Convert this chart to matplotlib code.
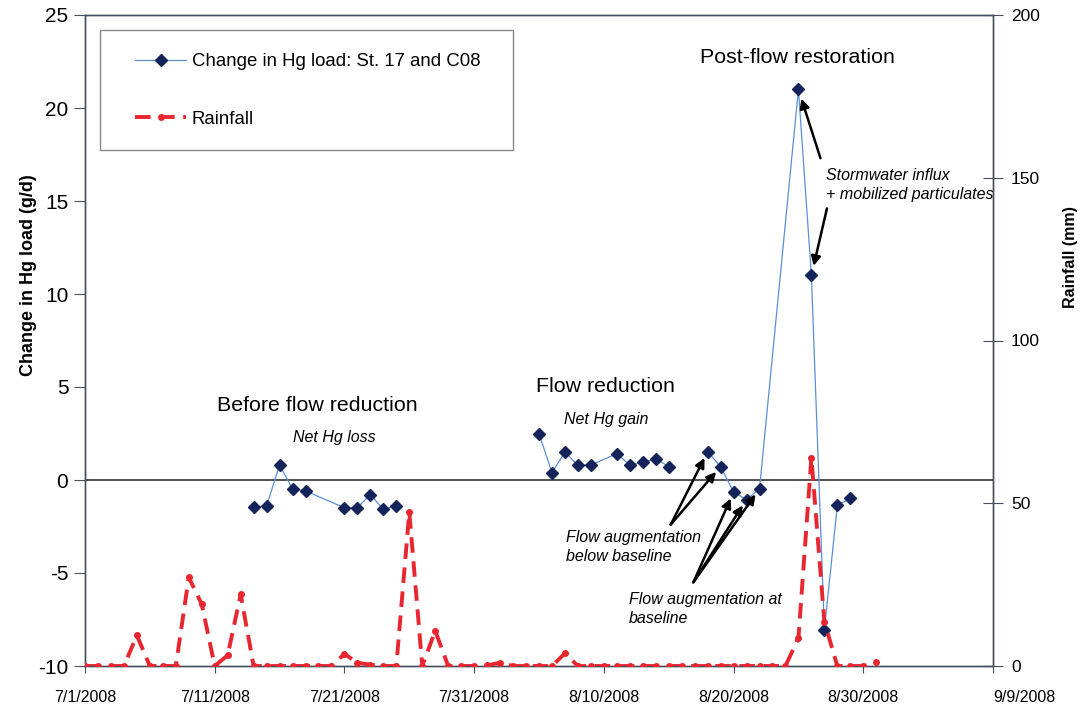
import numpy as np
import pandas as pd
import matplotlib
matplotlib.use("Agg")
import matplotlib.pyplot as plt
from matplotlib.patches import Rectangle
from matplotlib.lines import Line2D

plt.rcParams['font.family'] = ['Liberation Sans', 'DejaVu Sans']
TXT = ['Liberation Sans', 'DejaVu Sans']

# ---------------- data ----------------
hg_dates = ['2008-07-14', '2008-07-15', '2008-07-16', '2008-07-17', '2008-07-18',
            '2008-07-21', '2008-07-22', '2008-07-23', '2008-07-24', '2008-07-25',
            '2008-07-26',
            '2008-08-05', '2008-08-06', '2008-08-07', '2008-08-08', '2008-08-09',
            '2008-08-11', '2008-08-12', '2008-08-13', '2008-08-14', '2008-08-15',
            '2008-08-16',
            '2008-08-18', '2008-08-19', '2008-08-20', '2008-08-21', '2008-08-22',
            '2008-08-25', '2008-08-26', '2008-08-27', '2008-08-28', '2008-08-29']
hg_change = [-1.47, -1.40, 0.81, -0.48, -0.59,
             -1.49, -1.49, -0.78, -1.58, -1.40,
             np.nan,
             2.49, 0.40, 1.50, 0.80, 0.80,
             1.42, 0.80, 0.95, 1.14, 0.72,
             np.nan,
             1.52, 0.72, -0.65, -1.05, -0.47,
             21.0, 11.0, -8.05, -1.37, -0.98]

rain_start = '2008-07-01'
rainfall = [0, 0, 0, 0, 9.4, 0, 0, 0, 27.2, 19.0,
            0, 3.3, 22.0, 0, 0, 0, 0, 0, 0, 0,
            3.7, 1.0, 0.4, 0, 0, 47.3, 0, 10.8, 0, 0,
            0, 0.2, 1.0, 0, 0, 0, 0, 3.9, 0, 0,
            0, 0, 0, 0, 0, 0, 0, 0, 0, 0,
            0, 0, 0, 0, 0, 8.6, 64.0, 13.6, 0, 0,
            0, 1.1]

x_tick_dates = ['2008-07-01', '2008-07-11', '2008-07-21', '2008-07-31',
                '2008-08-10', '2008-08-20', '2008-08-30', '2008-09-09']
x_tick_labels = ['7/1/2008', '7/11/2008', '7/21/2008', '7/31/2008',
                 '8/10/2008', '8/20/2008', '8/30/2008', '9/9/2008']
left_ticks = [-10, -5, 0, 5, 10, 15, 20, 25]
right_ticks = [0, 50, 100, 150, 200]

hg_label = 'Change in Hg load: St. 17 and C08'
rain_label = 'Rainfall'

# ---------------- figure ----------------
W, H = 1080, 712
fig = plt.figure(figsize=(W / 100, H / 100), dpi=100)
fig.patch.set_facecolor('white')

def fx(px):
    return px / W

def fy(py):
    return 1 - py / H

ax = fig.add_axes([fx(85), fy(666), (993 - 85) / W, (666 - 15) / H])
ax2 = ax.twinx()

hg_x = pd.to_datetime(hg_dates)
rain_x = pd.date_range(rain_start, periods=len(rainfall), freq='D')

hg_line_color = '#5b8fd8'
hg_marker_color = '#14235a'
rain_color = '#e8262f'

ax.plot(hg_x, hg_change, color=hg_line_color, lw=0.9, marker='D', ms=6.5,
        mfc=hg_marker_color, mec=hg_marker_color, zorder=3)
ax.axhline(0, color='#222222', lw=1.1, zorder=2)

ax2.plot(rain_x, rainfall, color=rain_color, lw=2.8, ls=(0, (4.0, 2.2)),
         marker='o', ms=4, mfc=rain_color, mec=rain_color, zorder=3)

# axes limits and ticks
xt = pd.to_datetime(x_tick_dates)
ax.set_xlim(xt[0], xt[-1])
ax.set_xticks(xt)
ax.set_xticklabels(x_tick_labels, fontsize=11.5)
ax.get_xticklabels()[-1].set_horizontalalignment('left')
ax.set_ylim(-10, 25)
ax.set_yticks(left_ticks)
ax.set_yticklabels([str(v) for v in left_ticks], fontsize=15)
ax2.set_ylim(0, 200)
ax2.set_yticks(right_ticks)
ax2.set_yticklabels([str(v) for v in right_ticks], fontsize=12.5)

spine_c = '#454f5e'
for a in (ax, ax2):
    for s in a.spines.values():
        s.set_color(spine_c)
        s.set_linewidth(1.0)
ax.tick_params(axis='y', direction='out', length=8, width=0.8, color=spine_c, pad=4)
ax.tick_params(axis='x', direction='out', length=5, width=0.8, color=spine_c, pad=12)
ax2.tick_params(axis='y', direction='inout', length=14, width=0.8, color=spine_c, pad=6)

ax.set_ylabel('Change in Hg load (g/d)', fontsize=13, fontweight='bold')
ax.yaxis.set_label_coords((37 - 85) / 908, (666 - 275) / 651)
ax2.set_ylabel('Rainfall (mm)', fontsize=11.5, fontweight='bold')
ax2.yaxis.set_label_coords((1063 - 85) / 908, (666 - 257) / 651)

# ---------------- legend ----------------
h1 = Line2D([], [], color=hg_line_color, lw=0.9, marker='D', ms=6.5,
            mfc=hg_marker_color, mec=hg_marker_color)
h2 = Line2D([], [], color=rain_color, lw=2.8, ls=(0, (4.0, 2.2)),
            marker='o', ms=4, mfc=rain_color, mec=rain_color)
leg = ax2.legend([h1, h2], [hg_label, rain_label], loc='upper left',
                 bbox_to_anchor=(fx(135), fy(53)), bbox_transform=fig.transFigure,
                 frameon=False, borderpad=0, borderaxespad=0, handlelength=2.75,
                 handletextpad=0.3, labelspacing=2.2,
                 prop={'family': TXT, 'size': 13.4})
leg.set_zorder(6)
ax2.add_patch(Rectangle((fx(100), fy(150)), (513 - 100) / W, (150 - 30) / H,
                        transform=fig.transFigure, facecolor='white',
                        edgecolor='#8a8a8a', lw=1.0, clip_on=False, zorder=5))

# ---------------- annotations ----------------
def d(s):
    return pd.Timestamp(s)

def dd(s, frac):
    return pd.Timestamp(s) + pd.Timedelta(days=frac)

BIG = 15.4
SMALL = 11.5
ax.text(dd('2008-07-18', 0.92), 4.0, 'Before flow reduction', fontsize=BIG,
        family=TXT, ha='center', va='center')
ax.text(dd('2008-07-20', 0.23), 2.3, 'Net Hg loss', fontsize=SMALL, style='italic',
        family=TXT, ha='center', va='center')
ax.text(dd('2008-08-10', 0.1), 5.05, 'Flow reduction', fontsize=BIG,
        family=TXT, ha='center', va='center')
ax.text(dd('2008-08-10', 0.15), 3.23, 'Net Hg gain', fontsize=SMALL, style='italic',
        family=TXT, ha='center', va='center')
ax.text(dd('2008-08-25', -0.1), 22.7, 'Post-flow restoration', fontsize=BIG,
        family=TXT, ha='center', va='center')
ax.text(dd('2008-08-27', 0.1), 15.85, 'Stormwater influx\n+ mobilized particulates',
        fontsize=SMALL, style='italic', family=TXT, ha='left', va='center',
        linespacing=1.3)
ax.text(dd('2008-08-07', 0.1), -3.6, 'Flow augmentation\nbelow baseline',
        fontsize=SMALL, style='italic', family=TXT, ha='left', va='center',
        linespacing=1.3)
ax.text(dd('2008-08-11', 0.9), -6.95, 'Flow augmentation at\nbaseline',
        fontsize=SMALL, style='italic', family=TXT, ha='left', va='center',
        linespacing=1.3)

arrow_kw = dict(arrowstyle='-|>', color='black', lw=1.8, mutation_scale=14,
                shrinkA=0, shrinkB=5)
hg_s = pd.Series(hg_change, index=hg_x)
for tgt in ['2008-08-18', '2008-08-19']:
    ax.annotate('', xy=(d(tgt), hg_s[d(tgt)]), xytext=(dd('2008-08-15', 0.15), -2.4),
                arrowprops=arrow_kw)
for tgt in ['2008-08-20', '2008-08-21', '2008-08-22']:
    ax.annotate('', xy=(d(tgt), hg_s[d(tgt)]), xytext=(dd('2008-08-16', 0.9), -5.5),
                arrowprops=arrow_kw)
ax.annotate('', xy=(d('2008-08-25'), hg_s[d('2008-08-25')]),
            xytext=(dd('2008-08-26', 0.7), 17.3),
            arrowprops=dict(arrow_kw, shrinkB=7))
ax.annotate('', xy=(d('2008-08-26'), hg_s[d('2008-08-26')]),
            xytext=(dd('2008-08-27', 0.2), 14.6),
            arrowprops=dict(arrow_kw, shrinkB=7))

fig.savefig('out.png', dpi=100, facecolor='white')
